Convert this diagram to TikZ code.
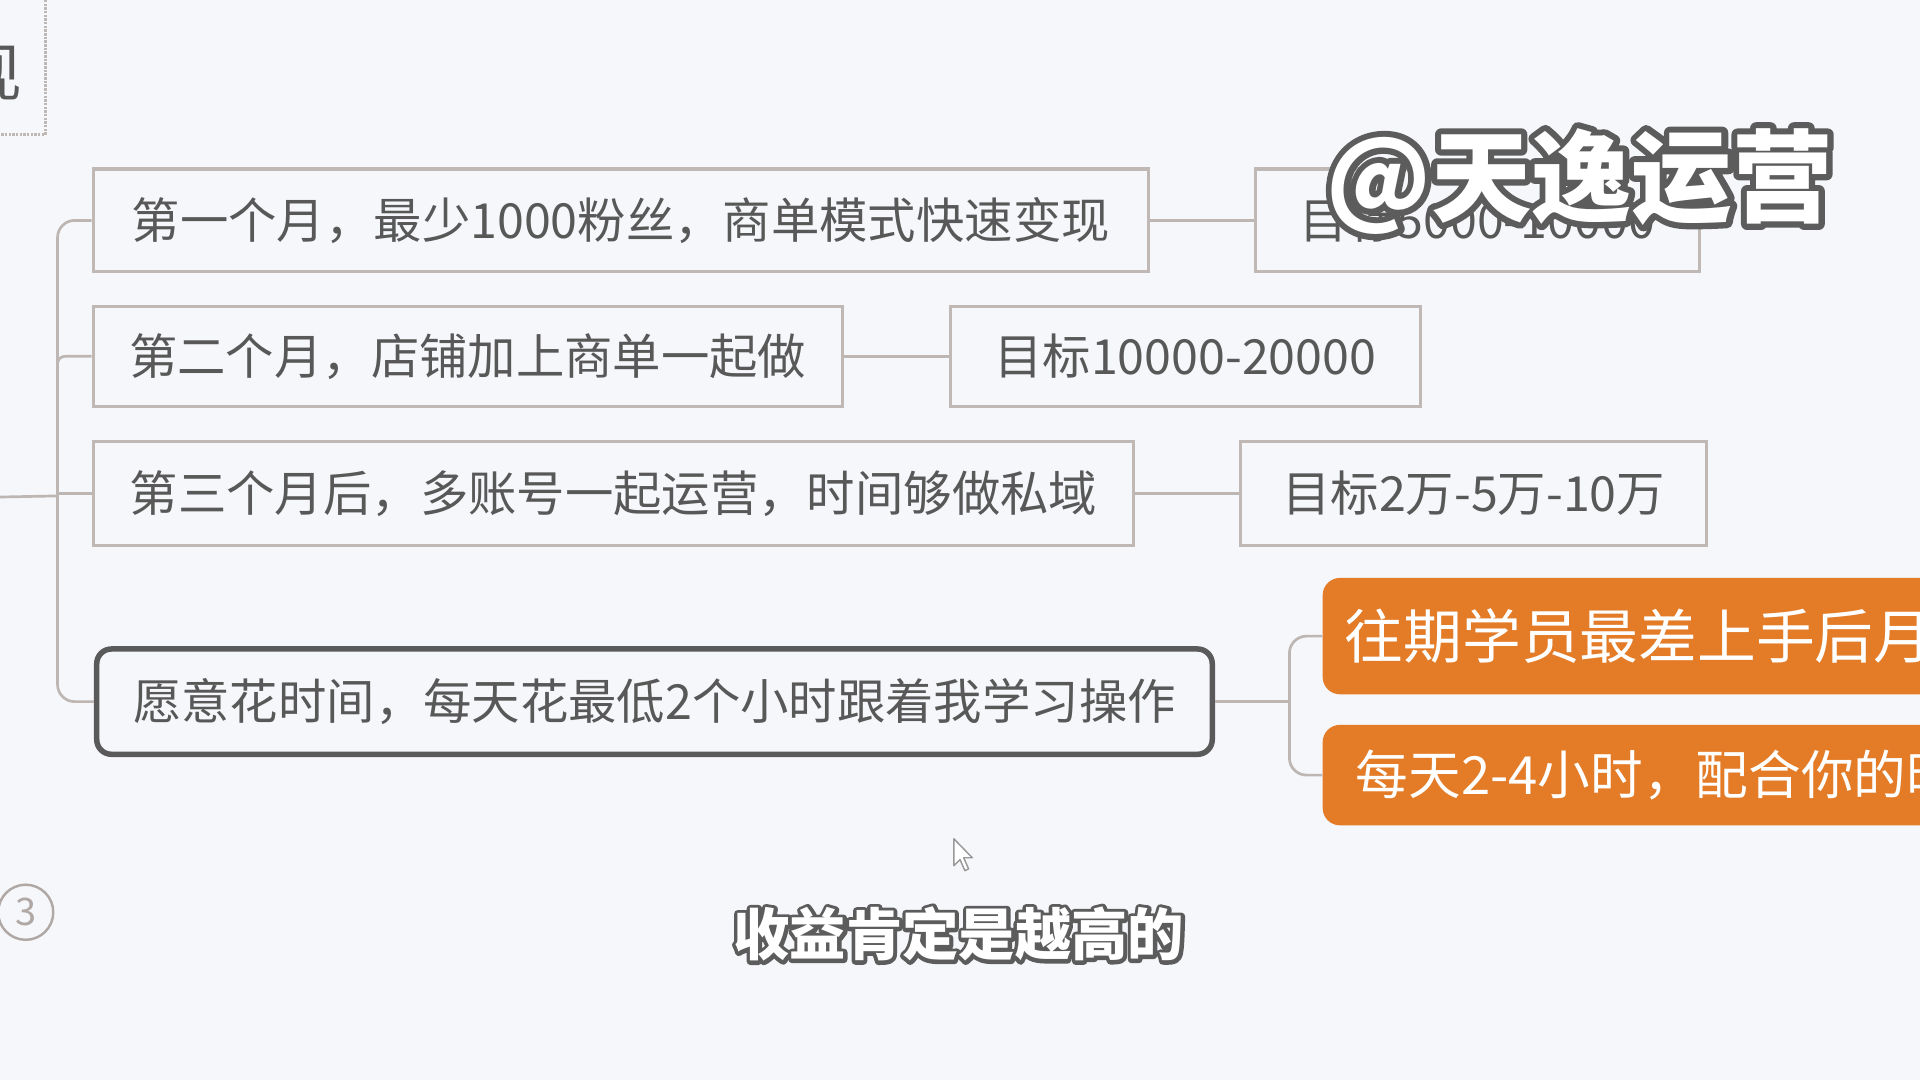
\documentclass[tikz,border=0pt]{standalone}
\usepackage{fontspec}
\setmainfont{Noto Sans CJK SC}
\definecolor{bg}{HTML}{F6F7FB}
\definecolor{txt}{HTML}{585858}
\definecolor{lnk}{HTML}{BDB6B2}
\definecolor{bord}{HTML}{BFB8B4}
\definecolor{org}{HTML}{E37B27}
\definecolor{dark}{HTML}{5A5A5A}
\definecolor{outl}{HTML}{5C5C5C}
\definecolor{circ}{HTML}{B0A8A4}
% white text with a dark outline: a stroked copy below, the filled text above
\newcommand\outlinedtext[2]{\leavevmode\rlap{\color{outl}\special{pdf:literal direct 1 Tr #1 w 1 j 1 J}#2\special{pdf:literal direct 0 Tr 1 w}}{\color{white}#2}}
\begin{document}
\begin{tikzpicture}[x=1pt,y=-1pt,
  gbox/.style={draw=bord, line width=2.5pt, fill=bg, text=txt, inner sep=0pt,
    font=\fontsize{39.5pt}{42pt}\selectfont},
  mainbox/.style={draw=dark, line width=4.5pt, fill=bg, text=txt, inner sep=0pt,
    rounded corners=12pt, font=\fontsize{39.5pt}{42pt}\selectfont},
  obox/.style={fill=org, text=white, rounded corners=14pt, anchor=west, inner ysep=0pt},
  conn/.style={draw=lnk, line width=2.2pt}]
\useasboundingbox (0,0) rectangle (1568,882);
\clip (0,0) rectangle (1568,882);
\fill[bg] (0,0) rectangle (1568,882);

% partial title at top left
\draw[bord, line width=2pt, densely dotted] (-5,110) -- (37,110) -- (37,-5);
\node[anchor=east, text=txt, inner sep=0pt, font=\fontsize{52pt}{52pt}\selectfont] (xian) at (18,60) {现};

% boxes
\node[gbox, minimum width=862pt, minimum height=84pt] (b1) at (507,180) {第一个月，最少1000粉丝，商单模式快速变现};
\node[gbox, minimum width=363pt, minimum height=84pt] (t1) at (1206.5,180) {目标5000-10000};
\node[gbox, minimum width=612pt, minimum height=82pt] (b2) at (382,291) {第二个月，店铺加上商单一起做};
\node[gbox, minimum width=384pt, minimum height=82pt] (t2) at (968,291) {目标10000-20000};
\node[gbox, minimum width=850pt, minimum height=85pt] (b3) at (501,403) {第三个月后，多账号一起运营，时间够做私域};
\node[gbox, minimum width=381pt, minimum height=85pt] (t3) at (1203.5,403) {目标2万-5万-10万};
\node[mainbox, minimum width=911pt, minimum height=86pt] (b4) at (534.5,573) {愿意花时间，每天花最低2个小时跟着我学习操作};
\node[obox, minimum height=95pt, inner xsep=18pt, font=\fontsize{48pt}{48pt}\selectfont] (o1) at (1080,519.5) {往期学员最差上手后月收入};
\node[obox, minimum height=82pt, inner xsep=27pt, font=\fontsize{43pt}{43pt}\selectfont] (o2) at (1080,633) {每天2-4小时，配合你的时间};

% connectors
\coordinate (j) at (47,405);
\coordinate (p) at (-5,406);
\draw[conn] (p) -- (j);
\draw[conn, rounded corners=14pt] (b1.west) -| (j) |- (b4.west);
\draw[conn, rounded corners=6pt] (b2.west) -| (j);
\draw[conn] (b3.west) -- (b3.west -| j);
\draw[conn] (b1.east) -- (t1.west);
\draw[conn] (b2.east) -- (t2.west);
\draw[conn] (b3.east) -- (t3.west);
\coordinate (k) at (1053,573);
\draw[conn] (b4.east) -- (k);
\draw[conn, rounded corners=14pt] (o1.west) -| (k) |- (o2.west);

% page number circle
\node[circle, draw=circ, line width=2pt, minimum size=45pt, inner sep=0pt, text=circ,
  font=\fontsize{31pt}{31pt}\selectfont] (c3) at (21,745) {3};

% mouse cursor
\draw[fill=white, draw=gray!80, line width=1.2pt, line join=round]
  (779,685) -- ++(0,22) -- ++(5,-5) -- ++(4,9) -- ++(3,-1.5) -- ++(-4,-9) -- ++(7,0) -- cycle;

% subtitle
\node[inner sep=0pt, font=\bfseries\fontsize{46pt}{46pt}\selectfont] (sub) at (783,763)
  {\outlinedtext{6}{收益肯定是越高的}};

% watermark
\node[inner sep=0pt, font=\bfseries\fontsize{82pt}{82pt}\selectfont] (wm) at (1290,148)
  {\outlinedtext{10}{@天逸运营}};
\end{tikzpicture}
\end{document}
